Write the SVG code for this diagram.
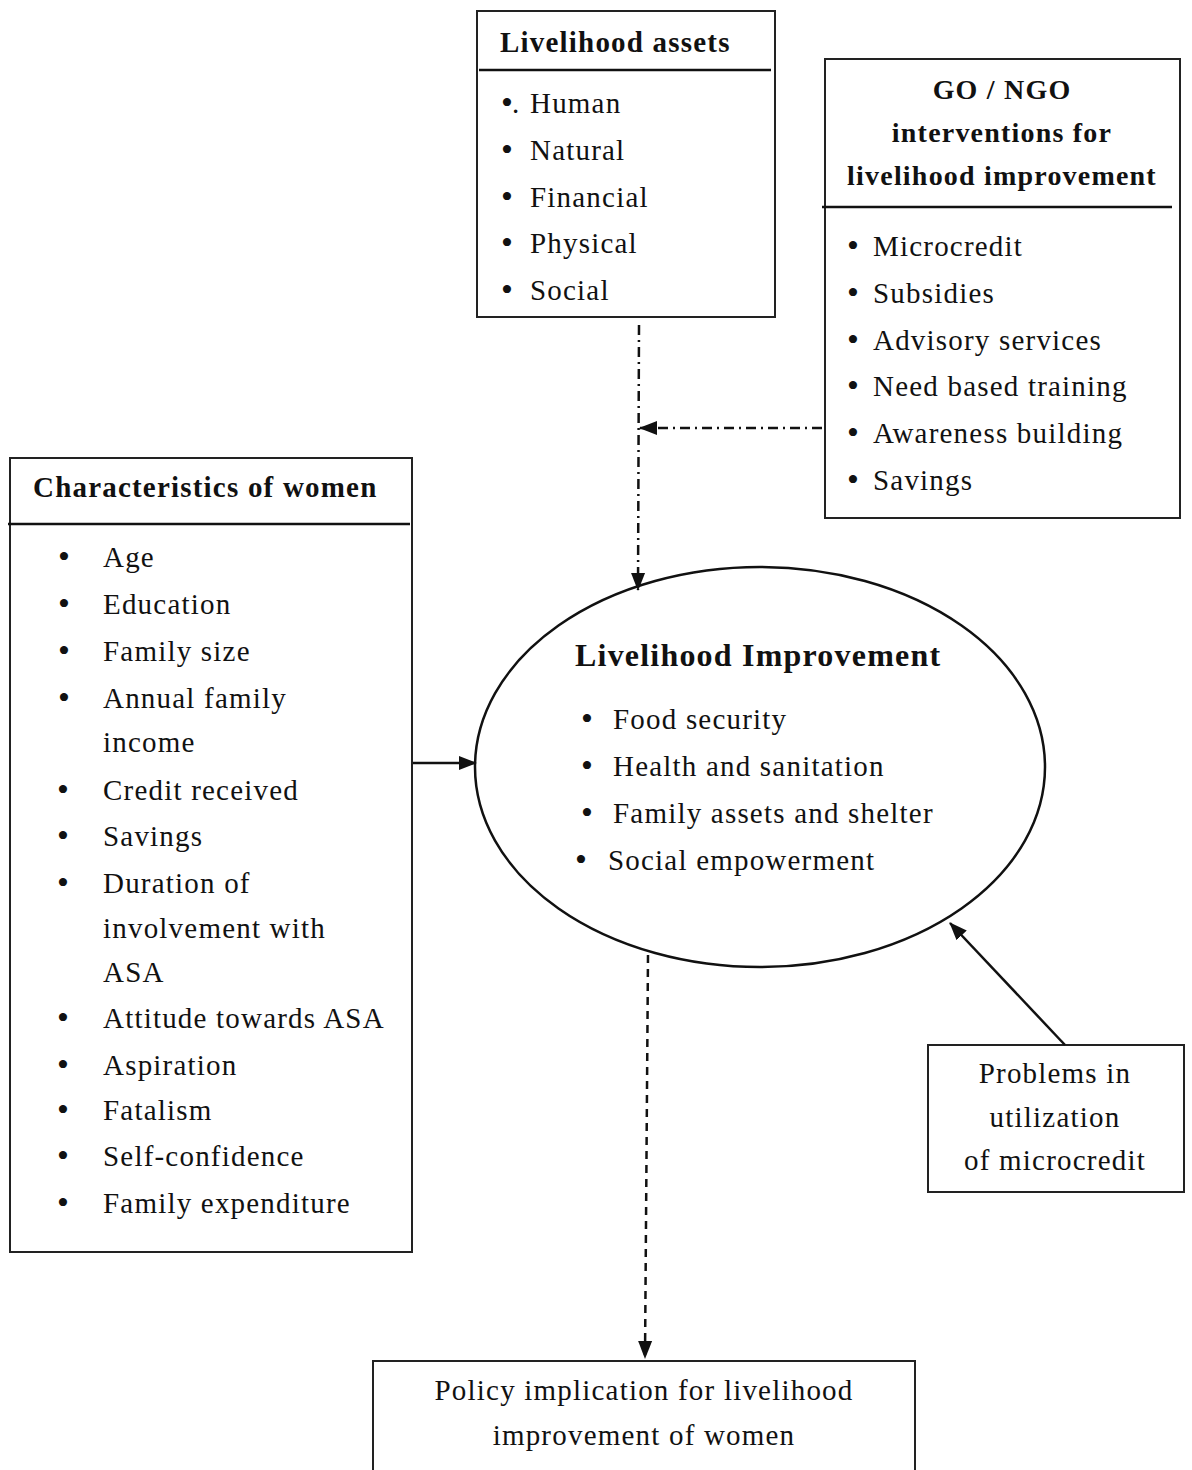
<svg xmlns="http://www.w3.org/2000/svg" width="1192" height="1470" viewBox="0 0 1192 1470">
<defs>
<marker id="arr" markerUnits="userSpaceOnUse" markerWidth="18" markerHeight="16" refX="17" refY="8" orient="auto">
<path d="M0,1 L18,8 L0,15 Z" fill="#111"/>
</marker>
<style>
.box{fill:none;stroke:#222;stroke-width:2}
.hl{stroke:#111;stroke-width:2.5}
text{font-family:"Liberation Serif","Times New Roman",serif;fill:#111;letter-spacing:1.2px}
.t{font-size:29px;font-weight:bold}
.i{font-size:29px}
.b{font-size:34px;text-anchor:middle;letter-spacing:0}
.c{text-anchor:middle}
.conn{fill:none;stroke:#111;stroke-width:2.5}
.dd{stroke-dasharray:10 5 2 5}
.da{stroke-dasharray:8 6}
</style>
</defs>
<rect width="1192" height="1470" fill="#fff"/>

<g id="assets">
<rect class="box" x="477" y="11" width="298" height="306"/>
<line class="hl" x1="479" y1="70" x2="771" y2="70"/>
<text class="t" x="500" y="52">Livelihood assets</text>
<g class="i">
<text class="b" x="507" y="114">•</text><text x="512" y="113">.</text><text x="530" y="113">Human</text>
<text class="b" x="507" y="161">•</text><text x="530" y="160">Natural</text>
<text class="b" x="507" y="208">•</text><text x="530" y="207">Financial</text>
<text class="b" x="507" y="254">•</text><text x="530" y="253">Physical</text>
<text class="b" x="507" y="301">•</text><text x="530" y="300">Social</text>
</g>
</g>

<g id="gongo">
<rect class="box" x="825" y="59" width="355" height="459"/>
<line class="hl" x1="822" y1="207" x2="1172" y2="207"/>
<g class="t c" style="font-size:28px">
<text x="1002" y="99">GO / NGO</text>
<text x="1002" y="142">interventions for</text>
<text x="1002" y="185">livelihood improvement</text>
</g>
<g class="i">
<text class="b" x="853" y="257">•</text><text x="873" y="256">Microcredit</text>
<text class="b" x="853" y="304">•</text><text x="873" y="303">Subsidies</text>
<text class="b" x="853" y="351">•</text><text x="873" y="350">Advisory services</text>
<text class="b" x="853" y="397">•</text><text x="873" y="396">Need based training</text>
<text class="b" x="853" y="444">•</text><text x="873" y="443">Awareness building</text>
<text class="b" x="853" y="491">•</text><text x="873" y="490">Savings</text>
</g>
</g>

<g id="characteristics">
<rect class="box" x="10" y="458" width="402" height="794"/>
<line class="hl" x1="8" y1="524" x2="410" y2="524"/>
<text class="t" x="33" y="497">Characteristics of women</text>
<g class="i">
<text class="b" x="64" y="568">•</text><text x="103" y="567">Age</text>
<text class="b" x="64" y="615">•</text><text x="103" y="614">Education</text>
<text class="b" x="64" y="662">•</text><text x="103" y="661">Family size</text>
<text class="b" x="64" y="709">•</text><text x="103" y="708">Annual family</text>
<text x="103" y="752">income</text>
<text class="b" x="63" y="801">•</text><text x="103" y="800">Credit received</text>
<text class="b" x="63" y="847">•</text><text x="103" y="846">Savings</text>
<text class="b" x="63" y="894">•</text><text x="103" y="893">Duration of</text>
<text x="103" y="938">involvement with</text>
<text x="103" y="982">ASA</text>
<text class="b" x="63" y="1029">•</text><text x="103" y="1028">Attitude towards ASA</text>
<text class="b" x="63" y="1076">•</text><text x="103" y="1075">Aspiration</text>
<text class="b" x="63" y="1121">•</text><text x="103" y="1120">Fatalism</text>
<text class="b" x="63" y="1167">•</text><text x="103" y="1166">Self-confidence</text>
<text class="b" x="63" y="1214">•</text><text x="103" y="1213">Family expenditure</text>
</g>
</g>

<g id="improvement">
<ellipse cx="760" cy="767" rx="285" ry="200" fill="none" stroke="#111" stroke-width="2.5"/>
<text class="t" x="575" y="666" style="font-size:32px">Livelihood Improvement</text>
<g class="i">
<text class="b" x="587" y="730">•</text><text x="613" y="729">Food security</text>
<text class="b" x="587" y="777">•</text><text x="613" y="776">Health and sanitation</text>
<text class="b" x="587" y="824">•</text><text x="613" y="823">Family assets and shelter</text>
<text class="b" x="581" y="871">•</text><text x="608" y="870">Social empowerment</text>
</g>
</g>

<g id="problems">
<rect class="box" x="928" y="1045" width="256" height="147"/>
<g class="i c">
<text x="1055" y="1083">Problems in</text>
<text x="1055" y="1127">utilization</text>
<text x="1055" y="1170">of microcredit</text>
</g>
</g>

<g id="policy">
<rect class="box" x="373" y="1361" width="542" height="120"/>
<g class="i c">
<text x="644" y="1400">Policy implication for livelihood</text>
<text x="644" y="1445">improvement of women</text>
</g>
</g>

<g id="connectors">
<line class="conn dd" x1="639" y1="325" x2="638" y2="590" marker-end="url(#arr)"/>
<line class="conn dd" x1="822" y1="428" x2="640" y2="428" marker-end="url(#arr)"/>
<line class="conn" x1="413" y1="763" x2="476" y2="763" marker-end="url(#arr)"/>
<line class="conn da" x1="648" y1="955" x2="645" y2="1358" marker-end="url(#arr)"/>
<line class="conn" x1="1065" y1="1045" x2="950" y2="923" marker-end="url(#arr)"/>
</g>
</svg>
